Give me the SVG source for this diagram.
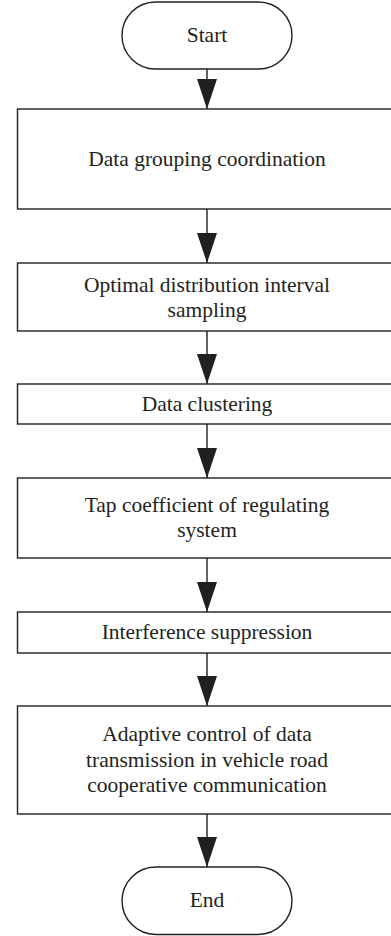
<svg xmlns="http://www.w3.org/2000/svg" width="391" height="936" viewBox="0 0 391 936">
<style>
.box{fill:#fff;stroke:#231f20;stroke-width:1.4}
.t{font-family:"Liberation Serif","Times New Roman",serif;font-size:21.5px;fill:#231f20;text-anchor:middle}
.c{stroke:#231f20;stroke-width:1.4;fill:none}
</style>
<defs>
<marker id="ah" markerUnits="userSpaceOnUse" markerWidth="30" markerHeight="20" refX="30" refY="10" orient="auto" viewBox="0 0 30 20">
<path d="M0,0 L30,10 L0,20 Z" fill="#231f20"/>
</marker>
</defs>
<rect width="391" height="936" fill="#fff"/>
<g id="connectors">
<line class="c" x1="207" y1="69" x2="207" y2="109" marker-end="url(#ah)"/>
<line class="c" x1="207" y1="209" x2="207" y2="263" marker-end="url(#ah)"/>
<line class="c" x1="207" y1="331" x2="207" y2="384" marker-end="url(#ah)"/>
<line class="c" x1="207" y1="424" x2="207" y2="478" marker-end="url(#ah)"/>
<line class="c" x1="207" y1="558" x2="207" y2="612" marker-end="url(#ah)"/>
<line class="c" x1="207" y1="653" x2="207" y2="706" marker-end="url(#ah)"/>
<line class="c" x1="207" y1="814" x2="207" y2="867" marker-end="url(#ah)"/>
</g>
<g id="start">
<rect class="box" x="122" y="2" width="170" height="67" rx="33.5"/>
<text class="t" x="207" y="41.5">Start</text>
</g>
<g id="n1">
<rect class="box" x="17.5" y="109" width="380" height="100"/>
<text class="t" x="207" y="165.5">Data grouping coordination</text>
</g>
<g id="n2">
<rect class="box" x="17.5" y="263" width="380" height="68"/>
<text class="t" x="207" y="292">Optimal distribution interval</text>
<text class="t" x="207" y="317">sampling</text>
</g>
<g id="n3">
<rect class="box" x="17.5" y="384" width="380" height="40"/>
<text class="t" x="207" y="410.5">Data clustering</text>
</g>
<g id="n4">
<rect class="box" x="17.5" y="478" width="380" height="80"/>
<text class="t" x="207" y="512">Tap coefficient of regulating</text>
<text class="t" x="207" y="537">system</text>
</g>
<g id="n5">
<rect class="box" x="17.5" y="612" width="380" height="41"/>
<text class="t" x="207" y="638.5">Interference suppression</text>
</g>
<g id="n6">
<rect class="box" x="17.5" y="706" width="380" height="108"/>
<text class="t" x="207" y="741">Adaptive control of data</text>
<text class="t" x="207" y="766.5">transmission in vehicle road</text>
<text class="t" x="207" y="792">cooperative communication</text>
</g>
<g id="end">
<rect class="box" x="122" y="867" width="170" height="67.5" rx="33.75"/>
<text class="t" x="207" y="906.5">End</text>
</g>
</svg>
